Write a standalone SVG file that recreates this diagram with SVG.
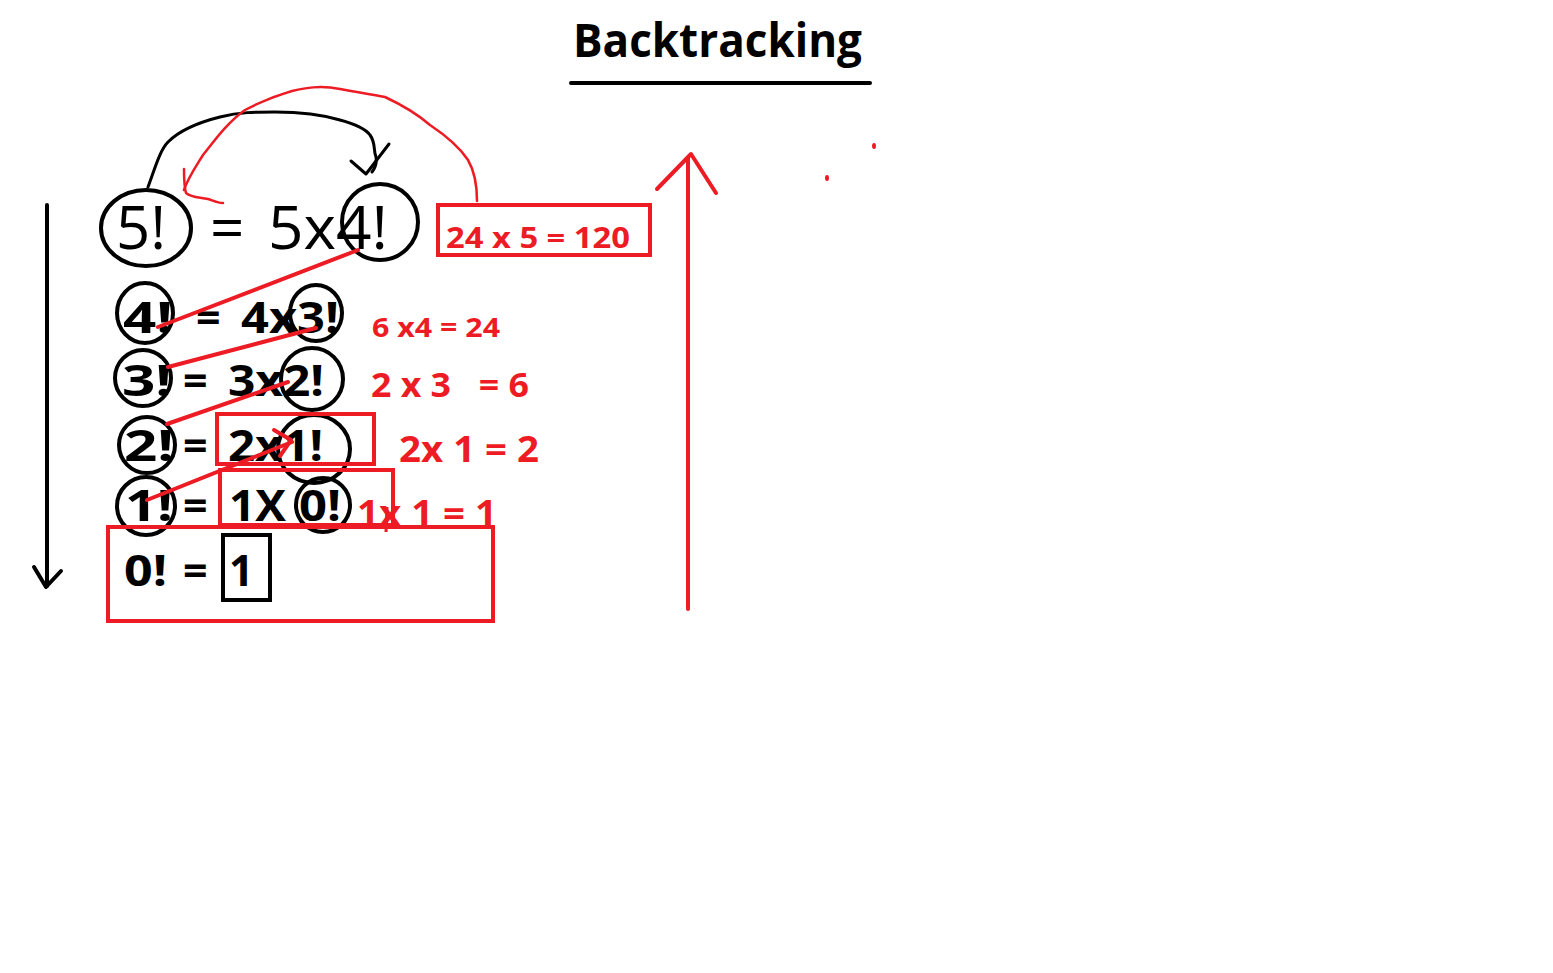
<svg xmlns="http://www.w3.org/2000/svg" width="1553" height="973" viewBox="0 0 1553 973">
<style>
.b{font-family:"Open Sans","Noto Sans",sans-serif;fill:#000}
.r{font-family:"Open Sans","Noto Sans",sans-serif;fill:#ed1c24;font-weight:700}
.k{fill:none;stroke:#000;stroke-width:4;stroke-linecap:round;stroke-linejoin:round}
.ka{fill:none;stroke:#000;stroke-width:3;stroke-linecap:round;stroke-linejoin:round}
.rd{fill:none;stroke:#ed1c24;stroke-width:4;stroke-linecap:round;stroke-linejoin:round}
.rt{fill:none;stroke:#ed1c24;stroke-width:2.5;stroke-linecap:round;stroke-linejoin:round}
.rb{fill:none;stroke:#ed1c24;stroke-width:4}
.t1{font-size:60px;font-weight:500}
.t2{font-size:43px;font-weight:700}
</style>
<rect width="1553" height="973" fill="#fff"/>
<g id="title">
<text class="b" x="573" y="57" font-size="47" font-weight="700" textLength="289" lengthAdjust="spacingAndGlyphs">Backtracking</text>
<line x1="571" y1="83" x2="870" y2="83" stroke="#000" stroke-width="4" stroke-linecap="round"/>
</g>
<g id="row1">
<text class="b t1" x="116" y="249" textLength="50" lengthAdjust="spacingAndGlyphs">5!</text>
<text class="b t1" x="210" y="249">=</text>
<text class="b t1" x="268" y="249" textLength="120" lengthAdjust="spacingAndGlyphs">5x4!</text>
<ellipse class="k" cx="146" cy="228" rx="45" ry="38"/>
<ellipse class="k" cx="380" cy="222" rx="38" ry="38"/>
</g>
<g id="row2">
<text class="b t2" x="123" y="333" textLength="50" lengthAdjust="spacingAndGlyphs">4!</text>
<text class="b t2" x="196" y="333">=</text>
<text class="b t2" x="241" y="333" textLength="98" lengthAdjust="spacingAndGlyphs">4x3!</text>
<ellipse class="k" cx="145" cy="313" rx="28" ry="30"/>
<ellipse class="k" cx="316" cy="313" rx="26" ry="28"/>
</g>
<g id="row3">
<text class="b t2" x="122" y="396" textLength="50" lengthAdjust="spacingAndGlyphs">3!</text>
<text class="b t2" x="183" y="396">=</text>
<text class="b t2" x="228" y="396" textLength="96" lengthAdjust="spacingAndGlyphs">3x2!</text>
<ellipse class="k" cx="143" cy="378" rx="28" ry="28"/>
<ellipse class="k" cx="312" cy="379" rx="31" ry="31"/>
</g>
<g id="row4">
<text class="b t2" x="124" y="461" textLength="50" lengthAdjust="spacingAndGlyphs">2!</text>
<text class="b t2" x="183" y="461">=</text>
<text class="b t2" x="228" y="461" textLength="95" lengthAdjust="spacingAndGlyphs">2x1!</text>
<ellipse class="k" cx="147" cy="445" rx="28" ry="28"/>
<ellipse class="k" cx="314" cy="449" rx="36" ry="34"/>
<rect class="rb" x="217" y="414" width="157" height="50"/>
</g>
<g id="row5">
<text class="b t2" x="125" y="521" textLength="48" lengthAdjust="spacingAndGlyphs">1!</text>
<text class="b t2" x="183" y="521">=</text>
<text class="b t2" x="229" y="521" textLength="57" lengthAdjust="spacingAndGlyphs">1X</text>
<text class="b t2" x="299" y="521" textLength="42" lengthAdjust="spacingAndGlyphs">0!</text>
<ellipse class="k" cx="146" cy="506" rx="29" ry="29"/>
<ellipse class="k" cx="323" cy="505" rx="27" ry="27"/>
<rect class="rb" x="220" y="470" width="173" height="55"/>
</g>
<g id="row6">
<rect class="rb" x="108" y="527" width="385" height="94"/>
<text class="b t2" x="124" y="586" textLength="43" lengthAdjust="spacingAndGlyphs">0!</text>
<text class="b t2" x="183" y="586">=</text>
<text class="b t2" x="229" y="586">1</text>
<rect x="223" y="535" width="47" height="65" fill="none" stroke="#000" stroke-width="4"/>
</g>
<g id="results">
<rect class="rb" x="438" y="205" width="212" height="50"/>
<text class="r" x="446" y="248" font-size="29" textLength="184" lengthAdjust="spacingAndGlyphs">24 x 5 = 120</text>
<text class="r" x="372" y="337" font-size="27" textLength="128" lengthAdjust="spacingAndGlyphs">6 x4 = 24</text>
<text class="r" x="371" y="397" font-size="34" textLength="158" lengthAdjust="spacingAndGlyphs" xml:space="preserve">2 x 3   = 6</text>
<text class="r" x="399" y="462" font-size="35" textLength="140" lengthAdjust="spacingAndGlyphs">2x 1 = 2</text>
<text class="r" x="357" y="526" font-size="35" textLength="140" lengthAdjust="spacingAndGlyphs">1x 1 = 1</text>
<line x1="387" y1="507" x2="386" y2="532" stroke="#ed1c24" stroke-width="3"/>
</g>
<g id="connectors">
<line class="k" x1="47" y1="205" x2="47" y2="586"/>
<polyline class="k" points="34,567 46,587 61,571"/>
<path class="ka" d="M148,187 C155,168 160,150 168,142 C180,130 200,122 220,117 C240,112 255,112 275,112 C300,112 320,114 340,120 C355,124 365,128 370,135 C376,143 373,150 376,157 C377,163 375,168 372,172"/>
<polyline class="ka" points="351,161 366,174 389,144"/>
<path class="rt" d="M477,201 C477,185 475,172 468,160 C458,145 445,135 430,125 C415,112 400,104 385,97 C370,94 355,92 340,89 C320,85 305,88 292,91 C275,96 260,102 245,110 C228,122 215,140 203,155 C195,168 188,178 184,190"/>
<path class="rt" d="M184,169 C184,178 184,186 186,193 C192,198 200,197 208,199 C214,201 218,203 223,203"/>
<line class="rd" x1="358" y1="250" x2="158" y2="327"/>
<line class="rd" x1="316" y1="328" x2="168" y2="367"/>
<line class="rd" x1="288" y1="382" x2="167" y2="424"/>
<line class="rd" x1="147" y1="500" x2="292" y2="442"/>
<polyline class="rd" points="274,430 291,440 280,456"/>
<line class="rd" x1="688" y1="158" x2="688" y2="609"/>
<polyline class="rd" points="657,189 691,154 716,193"/>
<ellipse cx="827" cy="178" rx="2" ry="3" fill="#ed1c24"/>
<ellipse cx="874" cy="146" rx="2" ry="3" fill="#ed1c24"/>
</g>
</svg>
